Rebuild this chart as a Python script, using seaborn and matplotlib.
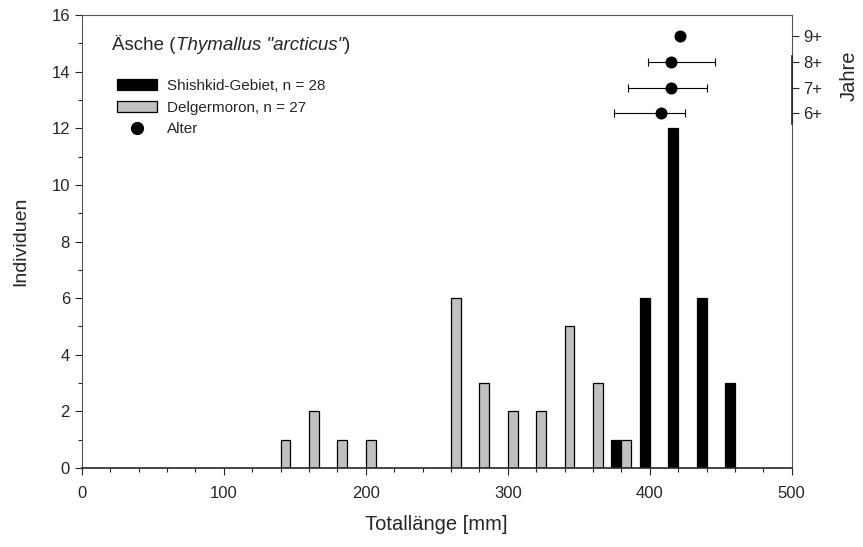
import matplotlib

matplotlib.use("Agg")

import matplotlib.pyplot as plt
import pandas as pd
import seaborn as sns
from matplotlib.lines import Line2D
from matplotlib.patches import Patch
from matplotlib.ticker import MultipleLocator

# ---- Daten ----
shishkid_len = [380, 400, 420, 440, 460]
shishkid_n = [1, 6, 12, 6, 3]

delger_len = [140, 160, 180, 200, 260, 280, 300, 320, 340, 360, 380]
delger_n = [1, 2, 1, 1, 6, 3, 2, 2, 5, 3, 1]

age_class = [6, 7, 8, 9]
age_labels = ["6+", "7+", "8+", "9+"]
age_mean = [408, 415, 415, 421]
age_lo = [375, 385, 399, 421]
age_hi = [425, 440, 446, 421]

groups = ["Shishkid-Gebiet, n = 28", "Delgermoron, n = 27"]
colors = ["#000000", "#c0c0c0"]

df = pd.DataFrame(
    {
        "Laenge": shishkid_len + delger_len,
        "Anzahl": shishkid_n + delger_n,
        "Gebiet": [groups[0]] * len(shishkid_len) + [groups[1]] * len(delger_len),
    }
)
df_age = pd.DataFrame({"Alter": age_class, "Laenge": age_mean})

# ---- Stil ----
sns.set_style("ticks")
plt.rcParams["font.family"] = ["Liberation Sans", "DejaVu Sans"]
plt.rcParams["font.size"] = 12

fig = plt.figure(figsize=(8.63, 5.47), dpi=100)
ax = fig.add_axes([0.0947, 0.1444, 0.8227, 0.8282])

sns.barplot(
    data=df,
    x="Laenge",
    y="Anzahl",
    hue="Gebiet",
    hue_order=groups,
    palette=colors,
    native_scale=True,
    width=0.7,
    edgecolor="black",
    linewidth=0.9,
    legend=False,
    ax=ax,
)

ax.set_xlim(0, 500)
ax.set_ylim(0, 16)
ax.xaxis.set_major_locator(MultipleLocator(100))
ax.xaxis.set_minor_locator(MultipleLocator(20))
ax.yaxis.set_major_locator(MultipleLocator(2))
ax.yaxis.set_minor_locator(MultipleLocator(1))
ax.tick_params(which="major", direction="out", length=5, width=0.8, labelsize=12)
ax.tick_params(which="minor", direction="out", length=3, width=0.8)
ax.tick_params(axis="x", pad=8)
ax.set_xlabel("Totallänge [mm]", fontsize=14.5, labelpad=10)
ax.set_ylabel("Individuen", fontsize=14, labelpad=16)
for side in ["top", "right", "left"]:
    ax.spines[side].set_linewidth(0.8)
    ax.spines[side].set_color("#555555")
ax.spines["bottom"].set_linewidth(1.2)

# ---- Altersklassen auf zweiter Achse ----
ax2 = ax.twinx()
ax2.set_ylim(-7.69, 9.8)
xerr = [
    [m - lo for m, lo in zip(age_mean, age_lo)],
    [hi - m for m, hi in zip(age_mean, age_hi)],
]
ax2.errorbar(
    age_mean, age_class, xerr=xerr, fmt="none",
    ecolor="black", elinewidth=0.8, capsize=3, capthick=0.8,
)
sns.scatterplot(
    data=df_age, x="Laenge", y="Alter", color="black",
    s=75, edgecolor="black", linewidth=0, ax=ax2, zorder=3,
)
ax2.set_xlim(0, 500)
ax2.set_yticks(age_class)
ax2.set_yticklabels(age_labels)
ax2.tick_params(axis="y", direction="out", length=5, width=0.8, labelsize=12)
ax2.set_ylabel("Jahre", fontsize=14.5, labelpad=10)
ax2.yaxis.set_label_coords(1.068, 0.865)
ax2.spines["right"].set_bounds(5.6, 8.2)
ax2.spines["right"].set_linewidth(1.2)
for side in ["top", "left", "bottom"]:
    ax2.spines[side].set_visible(False)

# ---- Titel und Legende ----
t1 = ax.text(0.043, 0.934, "Äsche (", transform=ax.transAxes,
             fontsize=13.5, va="center", ha="left")
t2 = ax.annotate('Thymallus "arcticus"', xy=(1, 0), xycoords=t1,
                 fontsize=13.5, style="italic", va="bottom", ha="left")
ax.annotate(")", xy=(1, 0), xycoords=t2, fontsize=13.5, va="bottom", ha="left")

handles = [
    Patch(facecolor=colors[0], edgecolor="black", linewidth=0.9),
    Patch(facecolor=colors[1], edgecolor="black", linewidth=0.9),
    Line2D([], [], marker="o", linestyle="none", color="black", markersize=8.5),
]
ax2.legend(
    handles, groups + ["Alter"],
    loc="upper left", bbox_to_anchor=(0.041, 0.872),
    frameon=False, fontsize=11, handlelength=2.65, handleheight=0.75,
    handletextpad=0.65, labelspacing=0.5, borderaxespad=0,
)

fig.savefig("out.png", dpi=100)
plt.close(fig)
